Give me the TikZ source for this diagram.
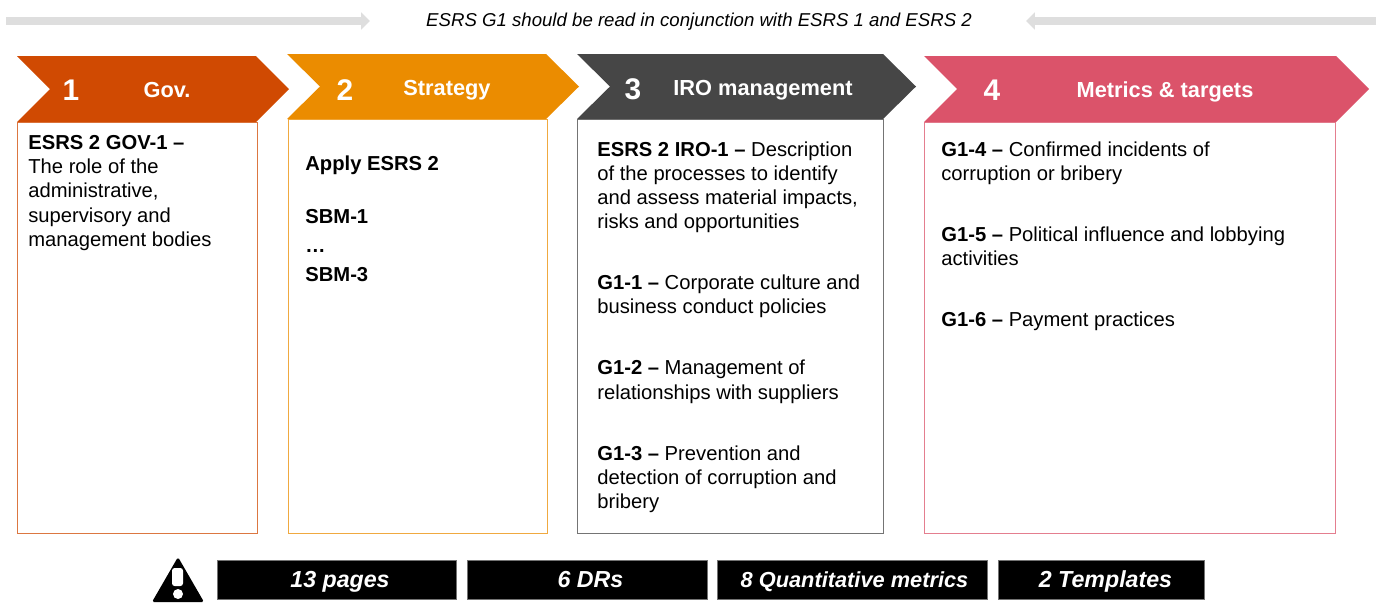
\documentclass[tikz,border=0pt]{standalone}
\usepackage{fontspec}
\setmainfont{Liberation Sans}
\usetikzlibrary{arrows.meta}
\definecolor{govcol}{HTML}{D04A02}
\definecolor{stratcol}{HTML}{EB8C00}
\definecolor{irocol}{HTML}{464646}
\definecolor{metcol}{HTML}{DB536A}
\definecolor{greyarrow}{HTML}{DEDEDE}
\tikzset{
    body/.style = {anchor=north west, inner sep=0pt, align=left, font=\fontsize{11.5}{13.8}\selectfont},
    num/.style = {text=white, inner sep=0pt, font=\fontsize{17}{20}\selectfont\bfseries},
    head/.style = {text=white, inner sep=0pt, text height=8.5pt, text depth=0pt, font=\fontsize{12.4}{14}\selectfont\bfseries},
    bar/.style = {fill=black, draw=black!55, line width=0.4pt, inner sep=0pt, minimum height=0.78cm, text=white, text height=9pt, text depth=0pt, font=\fontsize{13.2}{15}\selectfont\bfseries\itshape},
    note/.style = {inner sep=0pt, font=\fontsize{10.6}{13}\selectfont\itshape},
    band/.style = {greyarrow, line width=4.4pt, -{Triangle[length=5pt, width=9.5pt]}}
}
\begin{document}
\begin{tikzpicture}[x=0.02cm, y=-0.02cm]
    \useasboundingbox (0,0) rectangle (1381,603);
    % reading note with the two grey arrows
    \node[note] (note) at (699,22) {ESRS G1 should be read in conjunction with ESRS 1 and ESRS 2};
    \coordinate (la) at (6,21);
    \coordinate (lb) at (370,21);
    \coordinate (ra) at (1376,21);
    \coordinate (rb) at (1026,21);
    \foreach \from/\to in {la/lb, ra/rb}
        \draw[band] (\from) -- (\to);
    % boxes, then chevrons on top
    \foreach \colr/\xl/\xr/\yt in {govcol/17/257.5/122, stratcol/288/547.5/119, irocol/577/883.5/119, metcol/924/1335.5/122}
        \draw[\colr!75, line width=0.45pt] (\xl,\yt) rectangle (\xr,533);
    \foreach \colr/\xl/\xr/\yt/\yb in {govcol/17/256/56/122, stratcol/287/546/54/119, irocol/577/883/54/119, metcol/924/1336/56/122}
        \fill[\colr] (\xl,\yt) -- (\xr,\yt) -- ({\xr+33},{(\yt+\yb)/2}) -- (\xr,\yb) -- (\xl,\yb) -- ({\xl+33},{(\yt+\yb)/2}) -- cycle;
    \node[num] (n1) at (71,90) {1};
    \node[head] (gov) at (167,90) {Gov.};
    \node[num] (n2) at (345,90) {2};
    \node[head] (strategy) at (447,88) {Strategy};
    \node[num] (n3) at (633,89) {3};
    \node[head] (iro) at (763,88) {IRO management};
    \node[num] (n4) at (992,90) {4};
    \node[head] (metrics) at (1165,90) {Metrics \& targets};
    % column 1
    \node[body] (gov1) at (28,135) {\textbf{ESRS 2 GOV-1 –}\\The role of the\\administrative,\\supervisory and\\management bodies};
    % column 2
    \node[body] (apply) at (305,155) {\textbf{Apply ESRS 2}};
    \node[body] (sbm1) at (305,209) {\textbf{SBM-1}};
    \node[body] (dots) at (305,249) {\textbf{…}};
    \node[body] (sbm3) at (305,267) {\textbf{SBM-3}};
    % column 3
    \node[body] (iro1) at (597,141) {\textbf{ESRS 2 IRO-1 –} Description\\of the processes to identify\\and assess material impacts,\\risks and opportunities};
    \node[body] (g11) at (597,274) {\textbf{G1-1 –} Corporate culture and\\business conduct policies};
    \node[body] (g12) at (597,360) {\textbf{G1-2 –} Management of\\relationships with suppliers};
    \node[body] (g13) at (597,445) {\textbf{G1-3 –} Prevention and\\detection of corruption and\\bribery};
    % column 4
    \node[body] (g14) at (941,141) {\textbf{G1-4 –} Confirmed incidents of\\corruption or bribery};
    \node[body] (g15) at (941,226) {\textbf{G1-5 –} Political influence and lobbying\\activities};
    \node[body] (g16) at (941,311) {\textbf{G1-6 –} Payment practices};
    % warning sign
    \fill[black, rounded corners=1pt] (178,557) -- (204,602) -- (152,602) -- cycle;
    \fill[white, rounded corners=1.5pt] (172,568) rectangle (183,586);
    \fill[white] (178,594) circle (5);
    % bottom bars
    \node[bar, minimum width=4.78cm] (pages) at (336.5,580) {\hspace*{0.14cm}13 pages};
    \node[bar, minimum width=4.8cm] (drs) at (587,580) {\hspace*{0.14cm}6 DRs};
    \node[bar, minimum width=5.4cm, font=\fontsize{12.4}{15}\selectfont\bfseries\itshape] (quant) at (852,580) {\hspace*{0.1cm}8 Quantitative metrics};
    \node[bar, minimum width=4.12cm] (templ) at (1101,580) {\hspace*{0.18cm}2 Templates};
\end{tikzpicture}
\end{document}
